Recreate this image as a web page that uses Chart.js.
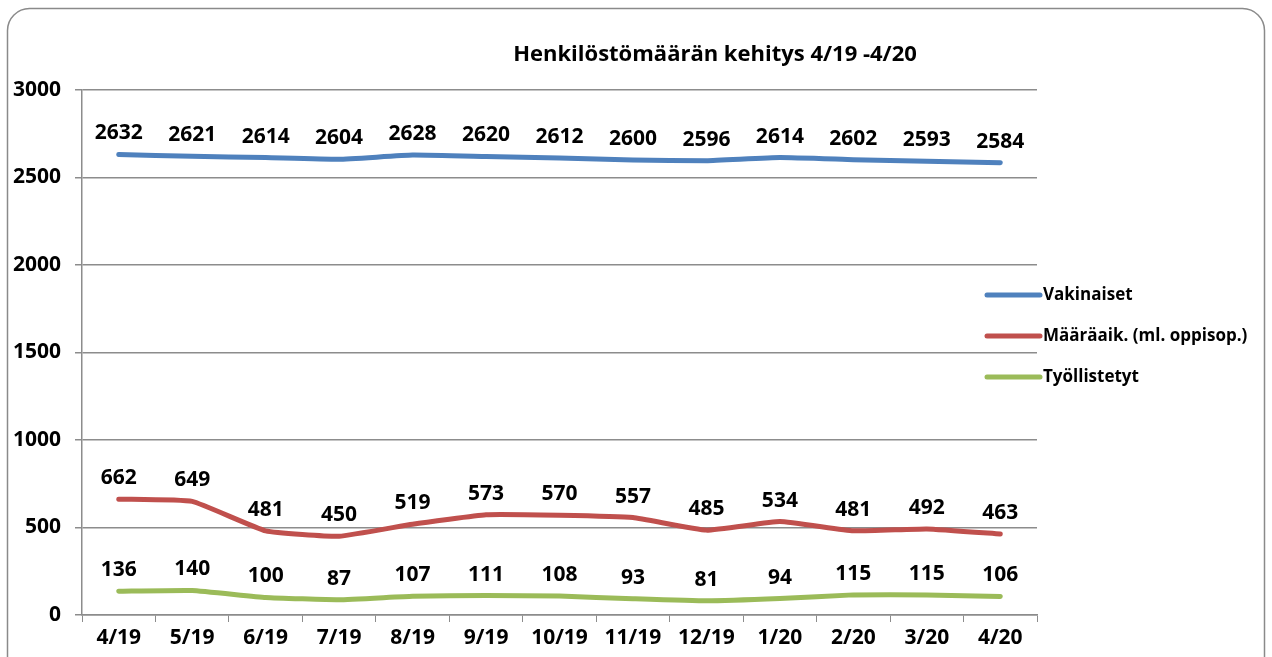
<!DOCTYPE html>
<html>
<head>
<meta charset="utf-8">
<script src="https://cdn.jsdelivr.net/npm/chart.js@4/dist/chart.umd.min.js"></script>
<style>
  body { margin: 0; background: #fff; }
  #wrap { width: 1272px; height: 657px; }
</style>
</head>
<body>
<div id="wrap"><canvas id="myChart" width="1272" height="657"></canvas></div>
<script>
// data
const months = ['4/19', '5/19', '6/19', '7/19', '8/19', '9/19', '10/19', '11/19', '12/19', '1/20', '2/20', '3/20', '4/20'];
const vakinaiset = [2632, 2621, 2614, 2604, 2628, 2620, 2612, 2600, 2596, 2614, 2602, 2593, 2584];
const maaraaik = [662, 649, 481, 450, 519, 573, 570, 557, 485, 534, 481, 492, 463];
const tyollistetyt = [136, 140, 100, 87, 107, 111, 108, 93, 81, 94, 115, 115, 106];
const yTicks = [0, 500, 1000, 1500, 2000, 2500, 3000];

const FONT = '"Open Sans", sans-serif';
const gridGrey = '#8c8c8c';

// frame, title, legend and value labels
const extras = {
  id: 'extras',
  beforeDraw(chart) {
    const ctx = chart.ctx;
    ctx.save();
    ctx.strokeStyle = '#8a8a8a';
    ctx.lineWidth = 1.5;
    ctx.beginPath();
    ctx.roundRect(7.5, 8.5, 1257, 680, 22);
    ctx.stroke();
    ctx.restore();
  },
  afterDatasetsDraw(chart) {
    const ctx = chart.ctx;
    ctx.save();
    ctx.fillStyle = '#000';
    ctx.font = 'bold 21px ' + FONT;
    ctx.textAlign = 'center';
    ctx.textBaseline = 'middle';
    chart.data.datasets.forEach((ds, di) => {
      chart.getDatasetMeta(di).data.forEach((pt, i) => {
        ctx.fillText(ds.data[i], pt.x, pt.y - 21);
      });
    });
    ctx.restore();
  },
  afterDraw(chart) {
    const ctx = chart.ctx;
    ctx.save();
    ctx.fillStyle = '#000';
    ctx.font = 'bold 22px ' + FONT;
    ctx.textAlign = 'center';
    ctx.textBaseline = 'middle';
    ctx.fillText('Henkilöstömäärän kehitys 4/19 -4/20', 715, 55);

    // legend
    const ys = [295, 336, 377];
    ctx.font = 'bold 17px ' + FONT;
    ctx.textAlign = 'left';
    chart.data.datasets.forEach((ds, i) => {
      ctx.strokeStyle = ds.borderColor;
      ctx.lineWidth = 5;
      ctx.lineCap = 'round';
      ctx.beginPath();
      ctx.moveTo(987, ys[i]);
      ctx.lineTo(1040, ys[i]);
      ctx.stroke();
      ctx.fillText(ds.label, 1043, ys[i]);
    });
    ctx.restore();
  }
};

const config = {
  type: 'line',
  data: {
    labels: months,
    datasets: [
      { label: 'Vakinaiset', data: vakinaiset, borderColor: '#4f81bd' },
      { label: 'Määräaik. (ml. oppisop.)', data: maaraaik, borderColor: '#c0504d' },
      { label: 'Työllistetyt', data: tyollistetyt, borderColor: '#9bbb59' }
    ]
  },
  options: {
    responsive: false,
    animation: false,
    layout: { padding: { top: 90, right: 235, left: 0, bottom: 0 } },
    elements: {
      line: { borderWidth: 5, tension: 0.12, borderCapStyle: 'round', borderJoinStyle: 'round' },
      point: { radius: 0 }
    },
    plugins: {
      legend: { display: false },
      title: { display: false },
      tooltip: { enabled: false }
    },
    scales: {
      x: {
        offset: true,
        grid: { offset: true, drawOnChartArea: false, color: gridGrey, tickLength: 7 },
        border: { color: gridGrey, width: 1.5 },
        ticks: { color: '#000', font: { family: FONT, size: 21, weight: 'bold' }, padding: 3, maxRotation: 0 },
        afterFit(s) { s.height = 42; }
      },
      y: {
        min: 0,
        max: 3000,
        afterBuildTicks(s) { s.ticks = yTicks.map(v => ({ value: v })); },
        grid: { color: gridGrey, lineWidth: 1.5, tickLength: 7 },
        border: { color: gridGrey, width: 1.5 },
        ticks: { color: '#000', font: { family: FONT, size: 21, weight: 'bold' }, padding: 14, callback: v => String(v) },
        afterFit(s) { s.width = 82; }
      }
    }
  },
  plugins: [extras]
};

const myChart = new Chart(document.getElementById('myChart'), config);
</script>
</body>
</html>
